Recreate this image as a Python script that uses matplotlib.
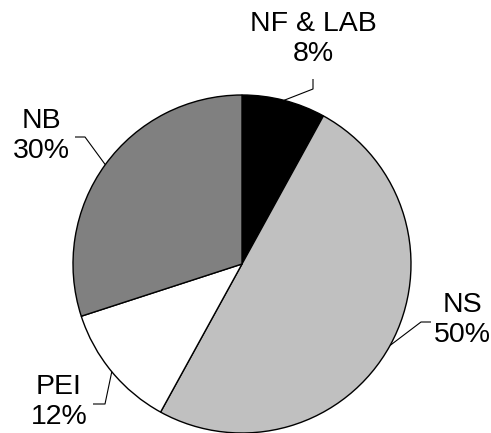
import numpy as np
import matplotlib
matplotlib.use("Agg")
import matplotlib.pyplot as plt

plt.rcParams['font.family'] = ['Liberation Sans', 'DejaVu Sans']

labels = ["NF & LAB", "NS", "PEI", "NB"]
shares = [8, 50, 12, 30]
colors = ["#000000", "#c0c0c0", "#ffffff", "#808080"]

W, H = 491, 433
fig = plt.figure(figsize=(W / 100, H / 100), dpi=100)
ax = fig.add_axes([0, 0, 1, 1])

cx, cy, r = 242, 169, 169
wedges, _ = ax.pie(shares, colors=colors, startangle=90, counterclock=False,
                   center=(cx, cy), radius=r,
                   wedgeprops=dict(edgecolor="black", linewidth=1.0))
ax.set_xlim(0, W)
ax.set_ylim(0, H)
ax.set_aspect("equal")
ax.axis("off")

# label block centres and leader-line elbows/ends (pixel layout, y up)
text_pos = [(313, 394), (462, 113), (59, 31), (41, 297)]
elbows = [[(313, 344), (313, 354)],
          [(421, 111), (431, 111)],
          [(105, 29), (93, 29)],
          [(85, 296), (75, 296)]]

for w, lab, val, tp, el in zip(wedges, labels, shares, text_pos, elbows):
    mid = np.deg2rad((w.theta1 + w.theta2) / 2)
    sx, sy = cx + r * np.cos(mid), cy + r * np.sin(mid)
    xs = [sx] + [p[0] for p in el]
    ys = [sy] + [p[1] for p in el]
    ax.plot(xs, ys, color="black", linewidth=0.8, solid_capstyle="butt")
    ax.text(tp[0], tp[1], f"{lab}\n{val}%", ha="center", va="center",
            fontsize=20.5, linespacing=1.2)

fig.savefig("out.png", dpi=100)
